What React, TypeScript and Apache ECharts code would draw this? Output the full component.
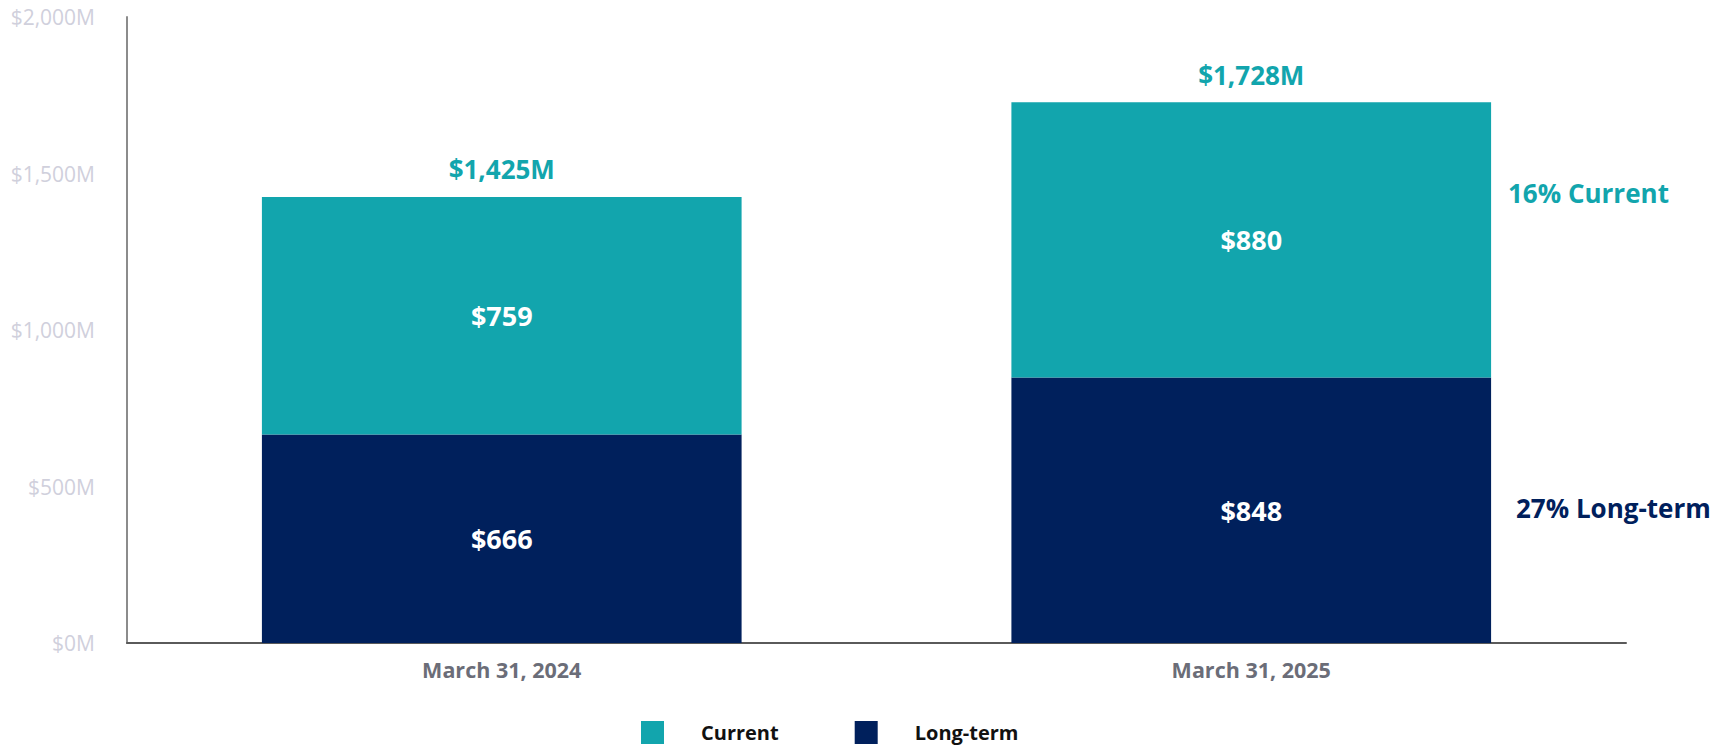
import React, { useEffect, useRef } from "react";
import * as echarts from "echarts";

const categories = ["March 31, 2024", "March 31, 2025"];
const currentValues = [759, 880];
const longTermValues = [666, 848];
const totals = [1425, 1728];
const yTicks = { min: 0, max: 2000, interval: 500 };
const sideNotes = ["16% Current", "27% Long-term"];

const TEAL = "#12a5ad";
const NAVY = "#00205c";
const FONT = "'Open Sans', 'Noto Sans', sans-serif";

export default function App() {
  const ref = useRef<HTMLDivElement>(null);
  useEffect(() => {
    if (!ref.current) return;
    const chart = echarts.init(ref.current, null, { renderer: "svg" });
    chart.setOption({
      animation: false,
      textStyle: { fontFamily: FONT },
      grid: { left: 127, right: 108, top: 17, bottom: 103, containLabel: false },
      legend: {
        data: ["Current", "Long-term"],
        left: 636,
        top: 716,
        icon: "rect",
        itemWidth: 23,
        itemHeight: 23,
        itemGap: 76,
        selectedMode: false,
        textStyle: {
          fontFamily: FONT,
          fontWeight: "bold",
          fontSize: 20,
          color: "#111111",
          padding: [0, 0, 0, 32],
        },
      },
      xAxis: {
        type: "category",
        data: categories,
        axisLine: { show: true, lineStyle: { color: "#5a5a5a", width: 2 } },
        axisTick: { show: false },
        axisLabel: {
          fontFamily: FONT,
          fontWeight: "bold",
          fontSize: 21.5,
          color: "#6b6d78",
          margin: 15,
        },
      },
      yAxis: {
        type: "value",
        min: yTicks.min,
        max: yTicks.max,
        interval: yTicks.interval,
        splitLine: { show: false },
        axisTick: { show: false },
        axisLine: { show: true, lineStyle: { color: "#8c8c8c", width: 2 } },
        axisLabel: {
          fontFamily: FONT,
          fontSize: 21,
          color: "#d0d0dc",
          margin: 32,
          formatter: (v: number) => "$" + v.toLocaleString("en-US") + "M",
        },
      },
      series: [
        {
          name: "Long-term",
          type: "bar",
          stack: "total",
          barWidth: "64%",
          data: longTermValues,
          itemStyle: { color: NAVY },
          label: {
            show: true,
            position: "inside",
            formatter: (p: any) => "$" + p.value,
            color: "#ffffff",
            fontFamily: FONT,
            fontWeight: "bold",
            fontSize: 27,
          },
        },
        {
          name: "Current",
          type: "bar",
          stack: "total",
          barWidth: "64%",
          data: currentValues,
          itemStyle: { color: TEAL },
          label: {
            show: true,
            position: "inside",
            formatter: (p: any) => "$" + p.value,
            color: "#ffffff",
            fontFamily: FONT,
            fontWeight: "bold",
            fontSize: 27,
          },
        },
        {
          name: "Total",
          type: "line",
          data: totals,
          symbol: "circle",
          symbolSize: 1,
          showSymbol: true,
          itemStyle: { color: "rgba(0,0,0,0)" },
          lineStyle: { opacity: 0 },
          silent: true,
          z: 10,
          label: {
            show: true,
            position: "top",
            distance: 14,
            formatter: (p: any) => "$" + Number(p.value).toLocaleString("en-US") + "M",
            color: TEAL,
            fontFamily: FONT,
            fontWeight: "bold",
            fontSize: 26,
          },
        },
      ],
      graphic: [
        {
          type: "text",
          left: 1508,
          top: 180,
          style: {
            text: sideNotes[0],
            fill: TEAL,
            font: "bold 26px " + FONT,
          },
        },
        {
          type: "text",
          left: 1516,
          top: 495,
          style: {
            text: sideNotes[1],
            fill: NAVY,
            font: "bold 26px " + FONT,
          },
        },
      ],
    });
    return () => chart.dispose();
  }, []);
  return (
    <div
      ref={ref}
      style={{ position: "fixed", left: 0, top: 0, width: 1734, height: 746, background: "#ffffff" }}
    />
  );
}
